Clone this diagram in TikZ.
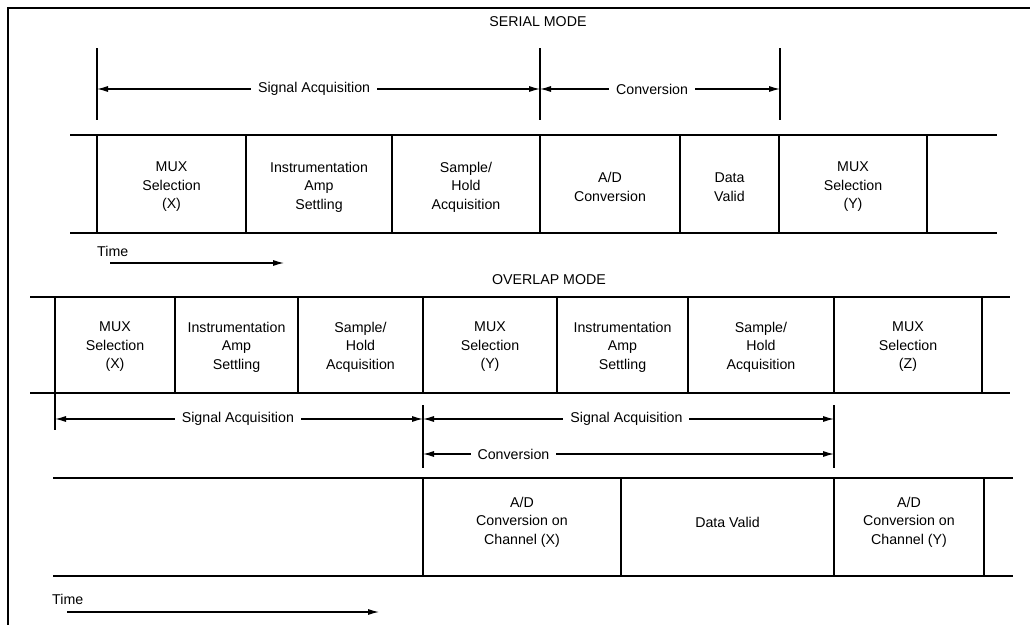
\documentclass[tikz,border=0pt]{standalone}
\usepackage{fontspec}
\setmainfont{Liberation Sans}
\usetikzlibrary{arrows.meta}
\newcommand{\cellfont}{\fontsize{14.2}{18.5}\selectfont}
\begin{document}
\begin{tikzpicture}[x=1pt,y=-1pt,
  rowline/.style={line width=2pt},
  tickline/.style={line width=2pt},
  frameline/.style={line width=2pt},
  dimline/.style={line width=1.1pt,{Latex[length=11pt,width=6pt]}-{Latex[length=11pt,width=6pt]}},
  timearrow/.style={line width=1.1pt,-{Latex[length=11pt,width=6pt]}},
  lbl/.style={fill=white,inner xsep=7pt,inner ysep=1pt,font=\cellfont},
  cell/.style={align=center,font=\cellfont,inner sep=0pt},
  title/.style={font=\cellfont,inner sep=0pt},
  timelbl/.style={font=\cellfont,inner sep=0pt,anchor=west}]
\useasboundingbox (0,0) rectangle (1030,624);
\clip (0,0) rectangle (1030,624);
\fill[white] (0,0) rectangle (1030,624);
% frame
\coordinate (fbl) at (8,640);
\coordinate (ftl) at (8,8);
\coordinate (ftr) at (1040,8);
\draw[frameline] (fbl) -- (ftl) -- (ftr);

% ---------- SERIAL MODE ----------
\node[title] (sertitle) at (538,22) {SERIAL MODE};
\foreach \x/\n in {97/0,540/1,780/2}{
  \coordinate (st\n) at (\x,48);
  \coordinate (sb\n) at (\x,120);
  \coordinate (sa\n) at (\x,89);
  \draw[tickline] (st\n) -- (sb\n);
}
\draw[dimline] (sa0) -- node[lbl,pos=0.49] (ssig) {Signal Acquisition} (sa1);
\draw[dimline] (sa1) -- node[lbl,pos=0.467] (sconv) {Conversion} (sa2);

\coordinate (sl1) at (70,135);  \coordinate (sr1) at (997,135);
\coordinate (sl2) at (70,233);  \coordinate (sr2) at (997,233);
\draw[rowline] (sl1) -- (sr1);
\draw[rowline] (sl2) -- (sr2);
\foreach \x/\n in {97/0,246/1,392/2,540/3,680/4,779/5,927/6}{
  \coordinate (sdt\n) at (\x,135);
  \coordinate (sdb\n) at (\x,233);
  \draw[rowline] (sdt\n) -- (sdb\n);
}
\node[cell] (sc1) at (171.5,187) {MUX\\Selection\\(X)};
\node[cell] (sc2) at (319,187) {Instrumentation\\Amp\\Settling};
\node[cell] (sc3) at (466,187) {Sample/\\Hold\\Acquisition};
\node[cell] (sc4) at (610,187) {A/D\\Conversion};
\node[cell] (sc5) at (729.5,187) {Data\\Valid};
\node[cell] (sc6) at (853,187) {MUX\\Selection\\(Y)};

\node[timelbl] (time1) at (97,251) {Time};
\coordinate (ta1) at (110,263);
\coordinate (tb1) at (284,263);
\draw[timearrow] (ta1) -- (tb1);

% ---------- OVERLAP MODE ----------
\node[title] (ovtitle) at (549,280) {OVERLAP MODE};
\coordinate (ol1) at (30,297);  \coordinate (or1) at (1010,297);
\coordinate (ol2) at (30,393);  \coordinate (or2) at (1010,393);
\draw[rowline] (ol1) -- (or1);
\draw[rowline] (ol2) -- (or2);
\foreach \x/\n in {55/0,175/1,298/2,423/3,557/4,688/5,834/6,982/7}{
  \coordinate (odt\n) at (\x,297);
  \coordinate (odb\n) at (\x,393);
  \draw[rowline] (odt\n) -- (odb\n);
}
\node[cell] (oc1) at (115,347) {MUX\\Selection\\(X)};
\node[cell] (oc2) at (236.5,347) {Instrumentation\\Amp\\Settling};
\node[cell] (oc3) at (360.5,347) {Sample/\\Hold\\Acquisition};
\node[cell] (oc4) at (490,347) {MUX\\Selection\\(Y)};
\node[cell] (oc5) at (622.5,347) {Instrumentation\\Amp\\Settling};
\node[cell] (oc6) at (761,347) {Sample/\\Hold\\Acquisition};
\node[cell] (oc7) at (908,347) {MUX\\Selection\\(Z)};

% ticks
\coordinate (ot0a) at (55,393);  \coordinate (ot0b) at (55,430);
\coordinate (ot1a) at (423,405); \coordinate (ot1b) at (423,468);
\coordinate (ot2a) at (834,405); \coordinate (ot2b) at (834,468);
\draw[tickline] (ot0a) -- (ot0b);
\draw[tickline] (ot1a) -- (ot1b);
\draw[tickline] (ot2a) -- (ot2b);
\coordinate (oa0) at (55,419);
\coordinate (oa1) at (423,419);
\coordinate (oa2) at (834,419);
\coordinate (oc1a) at (423,454);
\coordinate (oc2a) at (834,454);
\draw[dimline] (oa0) -- node[lbl,pos=0.497] (osig1) {Signal Acquisition} (oa1);
\draw[dimline] (oa1) -- node[lbl,pos=0.495] (osig2) {Signal Acquisition} (oa2);
\draw[dimline] (oc1a) -- node[lbl,pos=0.22] (oconv) {Conversion} (oc2a);

% bottom row
\coordinate (bl1) at (53,478);  \coordinate (br1) at (1013,478);
\coordinate (bl2) at (53,576);  \coordinate (br2) at (1013,576);
\draw[rowline] (bl1) -- (br1);
\draw[rowline] (bl2) -- (br2);
\foreach \x/\n in {423/0,621/1,834/2,984/3}{
  \coordinate (bdt\n) at (\x,478);
  \coordinate (bdb\n) at (\x,576);
  \draw[rowline] (bdt\n) -- (bdb\n);
}
\node[cell] (bc1) at (522,522) {A/D\\Conversion on\\Channel (X)};
\node[cell] (bc2) at (727.5,522) {Data Valid};
\node[cell] (bc3) at (909,522) {A/D\\Conversion on\\Channel (Y)};

\node[timelbl] (time2) at (52,599) {Time};
\coordinate (ta2) at (67,612);
\coordinate (tb2) at (379,612);
\draw[timearrow] (ta2) -- (tb2);
\end{tikzpicture}
\end{document}
